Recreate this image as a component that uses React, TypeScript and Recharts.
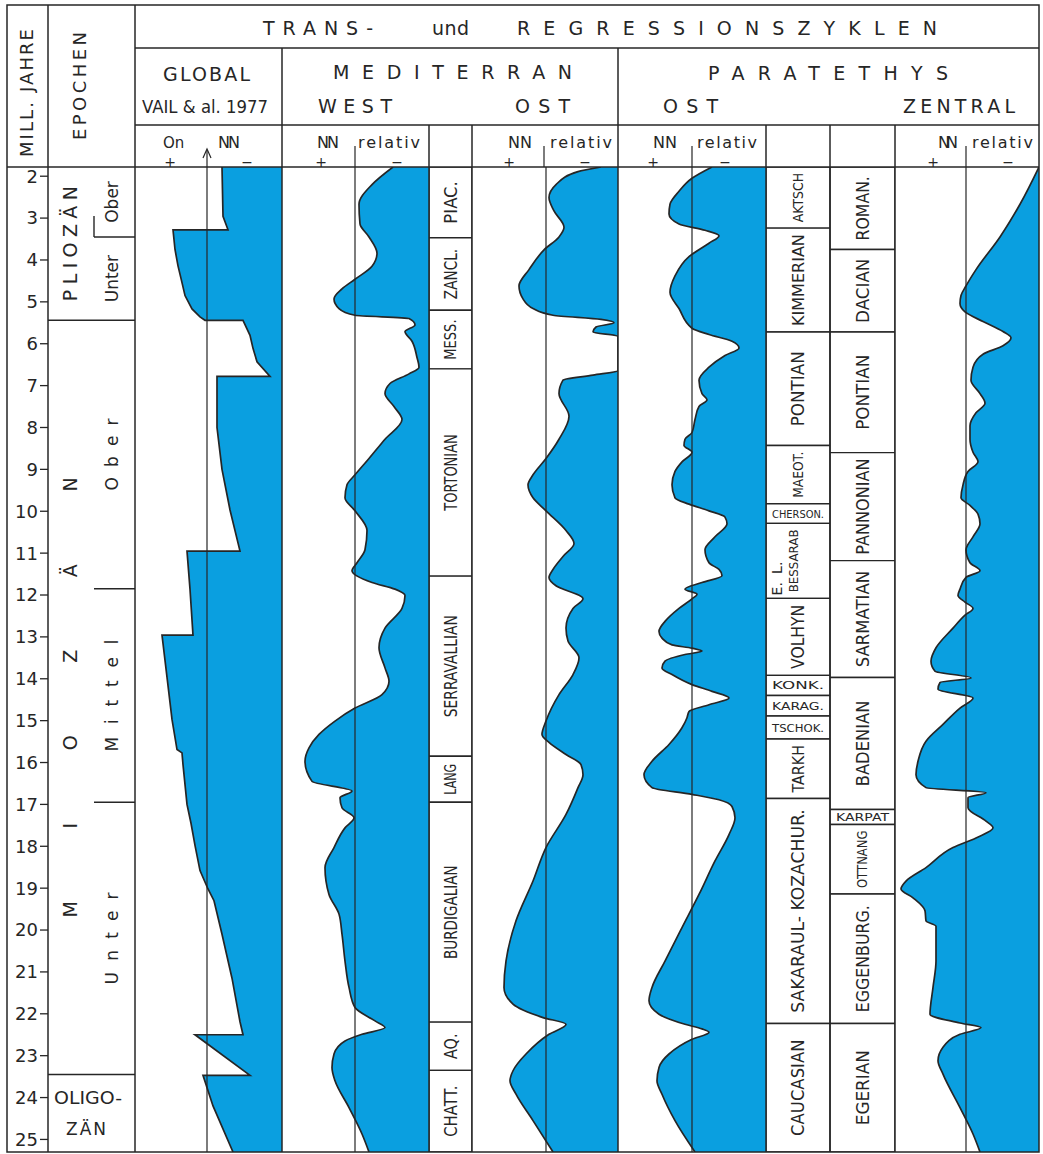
import React from "react";
import {
  ComposedChart,
  Area,
  XAxis,
  YAxis,
  ReferenceLine,
  ReferenceArea,
  ReferenceDot,
} from "recharts";

const AGE_TOP = 1.78;
const AGE_BOTTOM = 25.3;
const BODY_TOP = 167;
const BODY_H = 985;

const INK = "#262626";
const BLUE = "#0a9fe0";
const FONT = '"DejaVu Sans", Verdana, sans-serif';

const ageTicks = [2, 3, 4, 5, 6, 7, 8, 9, 10, 11, 12, 13, 14, 15, 16, 17, 18, 19, 20, 21, 22, 23, 24, 25];

const epochs: [string, number, number][] = [
  ["PLIOZÄN", AGE_TOP, 5.44],
  ["MIOZÄN", 5.44, 23.45],
  ["OLIGO-ZÄN", 23.45, AGE_BOTTOM],
];

const subEpochs: [string, number, number][] = [
  ["Ober", AGE_TOP, 3.45],
  ["Unter", 3.45, 5.44],
  ["Ober", 5.44, 11.85],
  ["Mittel", 11.85, 16.95],
  ["Unter", 16.95, 23.45],
];

// [age in Ma, sea level relative to NN; negative = transgression to the left]
const globalCurve: [number, number][] = [
  [1.78, 15], [2.96, 16], [3.28, 21], [3.28, -34], [3.75, -32], [4.14, -29], [4.54, -25],
  [4.85, -22], [5.17, -15], [5.36, -7], [5.44, -2], [5.44, 36], [5.8, 43], [6.11, 46],
  [6.43, 50], [6.78, 63], [6.78, 10], [8.0, 10], [9.0, 15], [9.97, 23], [10.95, 33],
  [10.95, -20], [11.86, -17], [12.96, -14], [12.96, -45], [13.96, -40], [14.97, -35],
  [15.69, -30], [15.77, -25], [16.05, -24], [17.0, -20], [17.45, -16], [17.98, -12],
  [18.58, -7], [19.02, 1], [19.3, 7], [20.1, 15], [21.15, 25], [22.19, 33], [22.5, 36],
  [22.5, -12], [23.47, 43], [23.47, -4], [24.2, 6], [25.3, 26],
];

const medWest: [number, number][] = [
  [1.78, 38], [2.2, 17], [2.67, 4], [3.14, 5], [3.45, 14], [3.84, 22], [4.15, 17], [4.46, 0],
  [4.69, -13], [4.93, -21], [5.16, -16], [5.32, 0], [5.4, 54], [5.55, 60], [5.71, 50],
  [5.94, 57], [6.33, 62], [6.56, 64], [6.72, 54], [6.95, 35], [7.19, 30], [7.5, 39],
  [7.81, 47], [8.28, 30], [8.74, 14], [9.13, 0], [9.37, -8], [9.68, -10], [9.99, 0],
  [10.46, 12], [10.92, 10], [11.23, 2], [11.42, -3], [11.7, 17], [11.86, 40], [12.01, 50],
  [12.32, 47], [12.79, 30], [13.26, 24], [13.74, 30], [14.06, 34], [14.38, 27], [14.7, 0],
  [15.01, -20], [15.33, -36], [15.65, -46], [15.97, -50], [16.45, -43], [16.68, -3],
  [16.84, -15], [17.08, -13], [17.32, -1], [17.56, -10], [18.03, -21], [18.51, -30],
  [19.15, -26], [19.62, -16], [20.1, -13], [20.74, -10], [21.37, -6], [21.85, 0],
  [22.17, 20], [22.33, 30], [22.49, 7], [22.65, -10], [22.96, -21], [23.28, -23],
  [23.6, -20], [24.24, -6], [24.87, 7], [25.3, 14],
];

const medOst: [number, number][] = [
  [1.78, 55], [1.89, 32], [2.2, 10], [2.51, 3], [2.83, 8], [3.22, 18], [3.45, 13], [3.76, -2],
  [4.23, -17], [4.62, -27], [4.93, -23], [5.16, -13], [5.32, 7], [5.42, 55], [5.5, 68],
  [5.6, 50], [5.72, 47], [5.82, 72], [6.64, 72], [6.75, 47], [6.87, 17], [7.19, 13],
  [7.73, 23], [8.28, 13], [8.74, 0], [9.13, -13], [9.37, -18], [9.68, -13], [9.99, 0],
  [10.46, 20], [10.77, 28], [11.08, 17], [11.39, 7], [11.58, 3], [11.78, 10], [12.09, 37],
  [12.32, 27], [12.79, 20], [13.1, 22], [13.5, 33], [13.9, 27], [14.38, 13], [15.01, 0],
  [15.33, -4], [15.52, 3], [15.81, 20], [16.05, 35], [16.29, 37], [16.6, 32], [17.24, 20],
  [18.03, 0], [18.83, -13], [19.78, -30], [20.74, -40], [21.37, -42], [21.77, -33],
  [22.09, -3], [22.25, 20], [22.49, 3], [22.96, -20], [23.36, -33], [23.6, -36],
  [23.92, -30], [24.55, -13], [25.3, 7],
];

const paraOst: [number, number][] = [
  [1.78, 20], [2.05, 0], [2.36, -13], [2.67, -22], [2.9, -23], [3.14, -13], [3.29, 13],
  [3.42, 27], [3.6, 17], [3.92, -3], [4.38, -17], [4.77, -22], [5.16, -13], [5.63, 0],
  [5.78, 17], [5.94, 40], [6.1, 47], [6.28, 33], [6.56, 17], [6.87, 7], [7.19, 10],
  [7.34, 15], [7.5, 7], [7.81, 3], [8.12, 0], [8.28, -7], [8.43, -8], [8.59, 0], [8.82, -10],
  [9.05, -17], [9.37, -20], [9.68, -17], [9.83, -3], [9.99, 17], [10.14, 33], [10.3, 35],
  [10.61, 23], [10.92, 13], [11.23, 17], [11.39, 27], [11.54, 30], [11.7, 10], [11.86, -7],
  [11.98, 5], [12.09, 0], [12.32, -13], [12.63, -27], [12.87, -33], [13.03, -30],
  [13.19, -20], [13.27, 0], [13.34, 10], [13.42, -7], [13.58, -27], [13.74, -30],
  [13.9, -20], [14.14, 0], [14.3, 20], [14.46, 37], [14.62, 17], [14.78, -3], [14.93, -5],
  [15.17, -10], [15.57, -23], [15.97, -40], [16.29, -48], [16.6, -40], [16.76, 0],
  [16.89, 27], [17.05, 40], [17.32, 43], [17.72, 37], [18.35, 23], [19.15, 7], [19.94, -10],
  [20.74, -27], [21.37, -40], [21.69, -43], [22.01, -33], [22.25, -7], [22.36, 10],
  [22.44, 17], [22.61, 0], [22.96, -23], [23.28, -33], [23.6, -35], [23.92, -30],
  [24.55, -17], [25.3, 3],
];

const paraZentral: [number, number][] = [
  [1.78, 73], [2.67, 54], [3.45, 34], [4.23, 10], [4.62, 0], [4.85, -5], [5.04, -6],
  [5.24, -1], [5.47, 17], [5.71, 37], [5.86, 45], [6.05, 37], [6.25, 17], [6.56, 7],
  [6.87, 5], [7.19, 14], [7.42, 19], [7.65, 10], [7.96, 4], [8.28, 4], [8.59, 7], [8.82, 12],
  [9.05, 2], [9.37, -3], [9.68, -5], [9.86, 4], [10.07, 12], [10.3, 14], [10.61, 7],
  [10.92, 0], [11.23, 4], [11.42, 14], [11.58, 0], [11.86, -6], [12.01, -8], [12.17, -1],
  [12.32, 7], [12.48, -1], [12.79, -13], [13.26, -30], [13.58, -35], [13.82, -31],
  [13.98, 5], [14.09, -26], [14.25, -28], [14.46, 7], [14.7, -6], [15.09, -23], [15.49, -40],
  [15.97, -48], [16.29, -50], [16.6, -40], [16.72, 20], [16.84, 2], [17.08, 2], [17.4, 20],
  [17.56, 27], [17.8, 10], [18.03, -13], [18.51, -40], [18.83, -60], [19.02, -65],
  [19.23, -53], [19.54, -41], [19.78, -40], [19.91, -30], [20.74, -30], [21.37, -33],
  [22.01, -36], [22.22, -6], [22.33, 15], [22.49, -6], [22.8, -23], [23.12, -28],
  [23.44, -23], [24.24, -6], [24.87, 7], [25.3, 14],
];

const medStages: [string, number, number][] = [
  ["PIAC.", AGE_TOP, 3.47], ["ZANCL.", 3.47, 5.2], ["MESS.", 5.2, 6.6],
  ["TORTONIAN", 6.6, 11.55], ["SERRAVALLIAN", 11.55, 15.85], ["LANG", 15.85, 16.95],
  ["BURDIGALIAN", 16.95, 22.2], ["AQ.", 22.2, 23.35], ["CHATT.", 23.35, AGE_BOTTOM],
];

const eastStages: [string, number, number][] = [
  ["AKTSCH", AGE_TOP, 3.24], ["KIMMERIAN", 3.24, 5.72], ["PONTIAN", 5.72, 8.43],
  ["MAEOT.", 8.43, 9.82], ["CHERSON.", 9.82, 10.29], ["BESSARAB", 10.29, 12.08],
  ["VOLHYN", 12.08, 13.92], ["KONK.", 13.92, 14.4], ["KARAG.", 14.4, 14.89],
  ["TSCHOK.", 14.89, 15.44], ["TARKH", 15.44, 16.86], ["SAKARAUL- KOZACHUR.", 16.86, 22.23],
  ["CAUCASIAN", 22.23, AGE_BOTTOM],
];

const centralStages: [string, number, number][] = [
  ["ROMAN.", AGE_TOP, 3.75], ["DACIAN", 3.75, 5.72], ["PONTIAN", 5.72, 8.6],
  ["PANNONIAN", 8.6, 11.18], ["SARMATIAN", 11.18, 13.97], ["BADENIAN", 13.97, 17.12],
  ["KARPAT", 17.12, 17.48], ["OTTNANG", 17.48, 19.14], ["EGGENBURG.", 19.14, 22.23],
  ["EGERIAN", 22.23, AGE_BOTTOM],
];

const flatStages = ["CHERSON.", "KONK.", "KARAG.", "TSCHOK.", "KARPAT"];
const sarmatSubs: [string, number][] = [["L.", 11.35], ["E.", 11.85]];

function centerOf(p: any) {
  const vb = p.viewBox || {};
  return { cx: vb.x + vb.width / 2, cy: vb.y + vb.height / 2 };
}

function rotText(cx: number, cy: number, text: string, fs: number, len?: number, adjust = "spacing") {
  return (
    <text
      x={cx}
      y={cy}
      dy="0.36em"
      transform={`rotate(-90 ${cx} ${cy})`}
      textAnchor="middle"
      fontSize={fs}
      fill={INK}
      fontFamily={FONT}
      textLength={len}
      lengthAdjust={len ? adjust : undefined}
    >
      {text}
    </text>
  );
}

function Body({ left, width, domain, data, children }: any) {
  return (
    <div style={{ position: "absolute", left, top: BODY_TOP, width, height: BODY_H }}>
      <ComposedChart
        width={width}
        height={BODY_H}
        layout="vertical"
        data={data}
        margin={{ top: 0, right: 0, bottom: 0, left: 0 }}
      >
        <XAxis type="number" domain={domain} hide allowDataOverflow />
        <YAxis type="number" dataKey="age" domain={[AGE_TOP, AGE_BOTTOM]} hide allowDataOverflow />
        {children}
      </ComposedChart>
    </div>
  );
}

function CurveColumn({ left, width, domain, points, type = "monotone" }: any) {
  const data = points.map(([age, level]: [number, number]) => ({ age, level }));
  return (
    <Body left={left} width={width} domain={domain} data={data}>
      <Area
        dataKey="level"
        type={type}
        baseValue={domain[1]}
        fill={BLUE}
        fillOpacity={1}
        stroke={INK}
        strokeWidth={1.7}
        dot={false}
        activeDot={false}
        isAnimationActive={false}
      />
      <ReferenceLine x={0} stroke={INK} strokeWidth={1.2} />
    </Body>
  );
}

function stageLabel(p: any, name: string, squeeze: number, dx: number) {
  const vb = p.viewBox || {};
  if (flatStages.includes(name)) {
    const cx = vb.x + vb.width / 2;
    const cy = vb.y + vb.height / 2;
    return (
      <text x={cx} y={cy} dy="0.36em" textAnchor="middle" fontSize={11} fill={INK} fontFamily={FONT}
        textLength={vb.width - 12} lengthAdjust="spacingAndGlyphs">
        {name}
      </text>
    );
  }
  const cx = vb.x + vb.width * dx;
  const cy = vb.y + vb.height / 2;
  // keep the natural text inside its box so nothing spills over the chart edge
  const fs = Math.min(17, Math.max(12, (vb.height - 4) / (name.length * 0.68)));
  const len = Math.min(name.length * fs * squeeze, vb.height - 12);
  return rotText(cx, cy, name, fs, len, "spacingAndGlyphs");
}

function StageColumn({ left, width, stages, squeeze, subs }: any) {
  const data = stages.map((s: [string, number, number]) => ({ age: s[1] }));
  return (
    <Body left={left} width={width} domain={[0, 1]} data={data}>
      {stages.map(([name, a, b]: [string, number, number]) => (
        <ReferenceArea
          key={name + a}
          x1={0}
          x2={1}
          y1={a}
          y2={b}
          fill="#fff"
          fillOpacity={1}
          stroke={INK}
          strokeWidth={1.4}
          ifOverflow="hidden"
          label={(p: any) => stageLabel(p, name, squeeze, name === "BESSARAB" ? 0.42 : 0.5)}
        />
      ))}
      {(subs || []).map(([t, age]: [string, number]) => (
        <ReferenceDot key={t} x={0.17} y={age} r={1} fill="none" stroke="none"
          label={(p: any) => { const c = centerOf(p); return rotText(c.cx, c.cy, t, 14); }} />
      ))}
    </Body>
  );
}

function AgeColumn() {
  return (
    <div style={{ position: "absolute", left: 7, top: BODY_TOP }}>
      <ComposedChart width={43} height={BODY_H} layout="vertical" data={ageTicks.map((age) => ({ age }))}
        margin={{ top: 0, right: 0, bottom: 0, left: 0 }}>
        <XAxis type="number" domain={[0, 1]} hide />
        <YAxis
          type="number"
          dataKey="age"
          domain={[AGE_TOP, AGE_BOTTOM]}
          allowDataOverflow
          ticks={ageTicks}
          interval={0}
          width={41}
          axisLine={false}
          tickSize={8}
          tickMargin={2}
          tickLine={{ stroke: INK, strokeWidth: 1.3 }}
          tick={{ fill: INK, fontSize: 18, fontFamily: FONT }}
        />
      </ComposedChart>
    </div>
  );
}

function EpochColumn() {
  const split = 46;
  const epochEnds = epochs.slice(0, -1).map((e) => e[2]);
  const subEnds = subEpochs.map((s) => s[2]).filter((a) => !epochEnds.includes(a));
  return (
    <Body left={48} width={87} domain={[0, 87]} data={epochs.map((e) => ({ age: e[1] }))}>
      {epochEnds.map((a) => (
        <ReferenceLine key={"e" + a} segment={[{ x: 0, y: a }, { x: 87, y: a }]} stroke={INK} strokeWidth={1.4} />
      ))}
      {subEnds.map((a) => (
        <ReferenceLine key={"s" + a} segment={[{ x: split, y: a }, { x: 87, y: a }]} stroke={INK} strokeWidth={1.4} />
      ))}
      <ReferenceLine segment={[{ x: split, y: subEnds[0] - 0.5 }, { x: split, y: subEnds[0] }]} stroke={INK} strokeWidth={1.4} />
      {epochs.map(([name, a, b], i) => (
        <ReferenceDot key={name} x={i === 2 ? 40 : 22} y={(a + b) / 2} r={1} fill="none" stroke="none"
          label={(p: any) => {
            const c = centerOf(p);
            if (i === 2) {
              const [l1, l2] = name.split("-");
              return (
                <g fill={INK} fontFamily={FONT} fontSize={17} textAnchor="middle">
                  <text x={c.cx} y={c.cy - 9} textLength={68} lengthAdjust="spacingAndGlyphs">{l1 + "-"}</text>
                  <text x={c.cx - 2} y={c.cy + 22} textLength={40} lengthAdjust="spacing">{l2}</text>
                </g>
              );
            }
            return rotText(c.cx, c.cy, name, 19, i === 0 ? 115 : 440);
          }} />
      ))}
      {subEpochs.map(([name, a, b]) => (
        <ReferenceDot key={name + a} x={64} y={(a + b) / 2} r={1} fill="none" stroke="none"
          label={(p: any) => {
            const c = centerOf(p);
            const spaced = a >= 5.44;
            return rotText(c.cx, c.cy, name, 17, spaced ? (name.length - 1) * 20 + 12 : undefined);
          }} />
      ))}
    </Body>
  );
}

function Frame() {
  const ln = { stroke: INK, strokeWidth: 1.5 };
  const t = (x: number, y: number, s: string, len: number, fs = 19, adj = "spacing") => (
    <text x={x} y={y} fontSize={fs} textLength={len} lengthAdjust={adj}>{s}</text>
  );
  const c = (x: number, s: string) => (
    <text x={x} y={167} fontSize={14} textAnchor="middle">{s}</text>
  );
  return (
    <svg width={1043} height={1154} style={{ position: "absolute", left: 0, top: 0, pointerEvents: "none" }}
      fontFamily={FONT} fill={INK}>
      <rect x={7} y={5} width={1032} height={1147} fill="none" {...ln} />
      <line x1={48} y1={5} x2={48} y2={1152} {...ln} />
      <line x1={135} y1={5} x2={135} y2={1152} {...ln} />
      {[282, 618].map((x) => <line key={x} x1={x} y1={48} x2={x} y2={1152} {...ln} />)}
      {[429, 472, 766, 830, 895].map((x) => <line key={x} x1={x} y1={125} x2={x} y2={1152} {...ln} />)}
      <line x1={135} y1={48} x2={1039} y2={48} {...ln} />
      <line x1={135} y1={125} x2={1039} y2={125} {...ln} />
      <line x1={7} y1={167} x2={1039} y2={167} {...ln} />
      {[355, 544, 692, 966].map((x) => <line key={x} x1={x} y1={146} x2={x} y2={167} stroke={INK} strokeWidth={1.2} />)}
      <line x1={207} y1={150} x2={207} y2={167} stroke={INK} strokeWidth={1.2} />
      <path d="M203,158 L207,149 L211,158" fill="none" stroke={INK} strokeWidth={1.2} />

      <text x={27} y={93} dy="0.36em" transform="rotate(-90 27 93)" textAnchor="middle" fontSize={18}
        textLength={128} lengthAdjust="spacing">MILL. JAHRE</text>
      <text x={80} y={86} dy="0.36em" transform="rotate(-90 80 86)" textAnchor="middle" fontSize={18}
        textLength={108} lengthAdjust="spacing">EPOCHEN</text>

      {t(263, 35, "TRANS-", 110)}
      {t(432, 35, "und", 37)}
      {t(517, 35, "REGRESSIONSZYKLEN", 420)}

      {t(163, 81, "GLOBAL", 87)}
      {t(142, 113, "VAIL & al. 1977", 126, 17, "spacingAndGlyphs")}
      {t(333, 79, "MEDITERRAN", 239)}
      {t(318, 113, "WEST", 74)}
      {t(515, 113, "OST", 55)}
      {t(708, 80, "PARATETHYS", 240)}
      {t(663, 113, "OST", 55)}
      {t(903, 113, "ZENTRAL", 112)}

      <text x={163} y={148} fontSize={15}>On</text>
      {t(218, 148, "NN", 22, 16)}
      {c(170, "+")}
      {c(247, "−")}

      {t(317, 148, "NN", 22, 16)}
      {c(321, "+")}
      {t(358, 148, "relativ", 62, 16)}
      {c(397, "−")}

      {t(508, 148, "NN", 24, 16)}
      {c(509, "+")}
      {t(550, 148, "relativ", 62, 16)}
      {c(585, "−")}

      {t(653, 148, "NN", 24, 16)}
      {c(653, "+")}
      {t(697, 148, "relativ", 60, 16)}
      {c(725, "−")}

      {t(938, 148, "NN", 20, 16)}
      {c(933, "+")}
      {t(972, 148, "relativ", 61, 16)}
      {c(1008, "−")}
    </svg>
  );
}

export default function App() {
  return (
    <div style={{ position: "absolute", left: 0, top: 0, width: 1043, height: 1154, background: "#fff", fontFamily: FONT }}>
      <AgeColumn />
      <EpochColumn />
      <CurveColumn left={135} width={147} domain={[-72, 75]} points={globalCurve} type="linear" />
      <CurveColumn left={282} width={147} domain={[-73, 74]} points={medWest} />
      <StageColumn left={429} width={43} stages={medStages} squeeze={0.5} />
      <CurveColumn left={472} width={146} domain={[-74, 72]} points={medOst} />
      <CurveColumn left={618} width={148} domain={[-74, 74]} points={paraOst} />
      <StageColumn left={766} width={64} stages={eastStages} squeeze={0.63} subs={sarmatSubs} />
      <StageColumn left={830} width={65} stages={centralStages} squeeze={0.63} />
      <CurveColumn left={895} width={144} domain={[-71, 73]} points={paraZentral} />
      <Frame />
    </div>
  );
}
